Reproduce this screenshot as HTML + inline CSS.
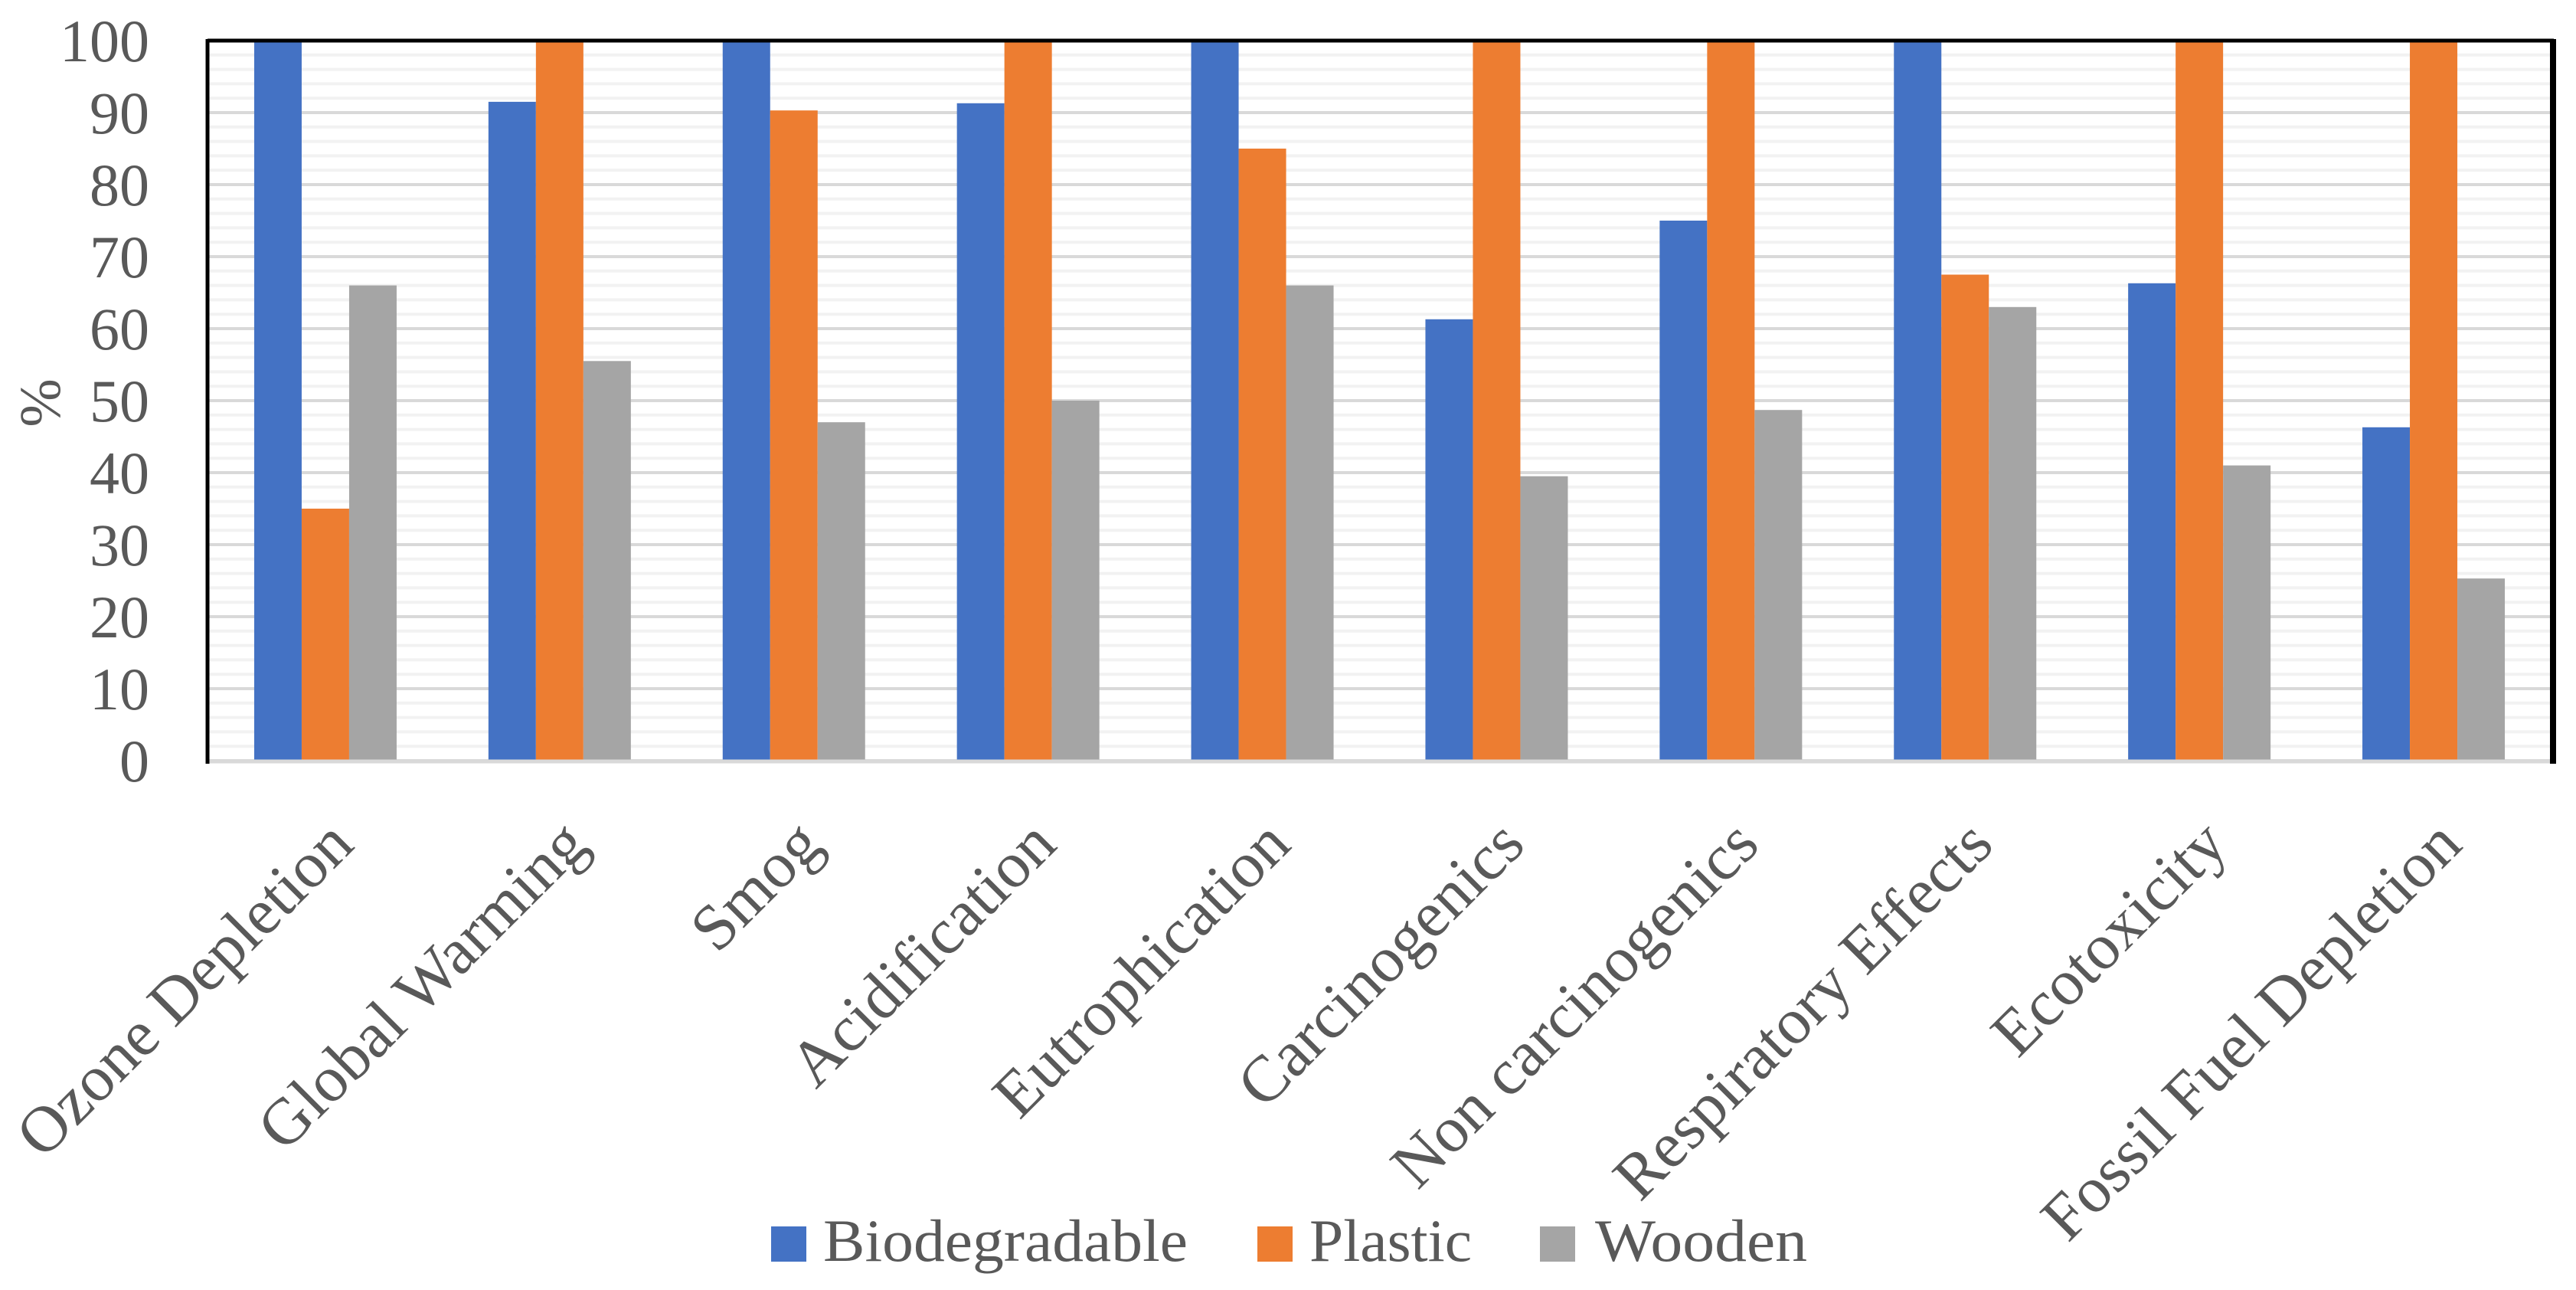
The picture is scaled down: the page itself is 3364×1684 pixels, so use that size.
<!DOCTYPE html>
<html><head><meta charset="utf-8"><style>
html,body{margin:0;padding:0;background:#fff;}
svg{display:block;font-family:"Liberation Serif",serif;}
</style></head><body>
<svg id="chart" width="3364" height="1684" viewBox="0 0 3364 1684" xmlns="http://www.w3.org/2000/svg">
<g id="grid"></g>
<g id="bars"></g>
<g id="axes"></g>
<g id="ylabels"></g>
<g id="xlabels"></g>
<text transform="translate(78,526) rotate(-90)" text-anchor="middle" font-size="76" fill="#595959">%</text>
<g>
  <g>
    <rect x="1007" y="1601" width="46" height="46" fill="#4472c4"/>
    <text x="1075" y="1646" font-size="78" fill="#595959" textLength="476" lengthAdjust="spacingAndGlyphs">Biodegradable</text>
  </g>
  <g>
    <rect x="1642" y="1601" width="46" height="46" fill="#ed7d31"/>
    <text x="1710" y="1646" font-size="78" fill="#595959" textLength="212" lengthAdjust="spacingAndGlyphs">Plastic</text>
  </g>
  <g>
    <rect x="2011" y="1601" width="46" height="46" fill="#a5a5a5"/>
    <text x="2083" y="1646" font-size="78" fill="#595959" textLength="277" lengthAdjust="spacingAndGlyphs">Wooden</text>
  </g>
</g>
</svg>
<script>
const categories = ["Ozone Depletion","Global Warming","Smog","Acidification","Eutrophication","Carcinogenics","Non carcinogenics","Respiratory Effects","Ecotoxicity","Fossil Fuel Depletion"];
const biodegradable = [100,91.5,100,91.3,100,61.3,75,100,66.3,46.3];
const plastic = [35,100,90.3,100,85,100,100,67.5,100,100];
const wooden = [66,55.5,47,50,66,39.5,48.7,63,41,25.3];
const yTicks = [0,10,20,30,40,50,60,70,80,90,100];

const NS = "http://www.w3.org/2000/svg";
const X0 = 272, X1 = 3331, Y0 = 993, Y1 = 53;
const yMax = 100;
const band = (X1 - X0) / categories.length;
const barW = 62;
function yScale(v){ return Y0 - (v / yMax) * (Y0 - Y1); }
function xCenter(i){ return X0 + band * (i + 0.5); }
function mk(tag, attrs, parent){
  const e = document.createElementNS(NS, tag);
  for (const k in attrs) e.setAttribute(k, attrs[k]);
  parent.appendChild(e);
  return e;
}
const grid = document.getElementById('grid');
for (let v = 0; v <= yMax; v += 2) {
  const major = v % 10 === 0;
  const l = mk('line', {x1:X0, x2:X1, y1:yScale(v), y2:yScale(v), stroke: major ? '#d9d9d9' : '#f2f2f2', 'stroke-width': 4}, grid);
  
  
}
const series = [[biodegradable,'#4472c4','biodegradable'],[plastic,'#ed7d31','plastic'],[wooden,'#a5a5a5','wooden']];
const bars = document.getElementById('bars');
categories.forEach((c, i) => {
  series.forEach((s, j) => {
    const v = s[0][i];
    const x = xCenter(i) + (j - 1.5) * barW;
    const r = mk('rect', {x:x, y:yScale(v), width:barW, height:Y0 - yScale(v), fill:s[1]}, bars);
    
    
  });
});
const axes = document.getElementById('axes');
let a;
a = mk('line', {x1:X0, x2:X1, y1:Y0+1, y2:Y0+1, stroke:'#d9d9d9', 'stroke-width':5}, axes);


a = mk('line', {x1:X0-1, x2:X1+4, y1:Y1, y2:Y1, stroke:'#000', 'stroke-width':5}, axes);


a = mk('line', {x1:X0-1, x2:X0-1, y1:Y1-2, y2:Y0+4, stroke:'#000', 'stroke-width':5}, axes);


a = mk('line', {x1:X1+3, x2:X1+3, y1:Y1-2, y2:Y0+4, stroke:'#000', 'stroke-width':8}, axes);


const yl = document.getElementById('ylabels');
yTicks.forEach(t => {
  const e = mk('text', {x:195, y:yScale(t) + 27, 'text-anchor':'end', 'font-size':78, fill:'#595959'}, yl);
  e.textContent = t;
  
  
});
const xl = document.getElementById('xlabels');
categories.forEach((c, i) => {
  const ax = xCenter(i) + 40, ay = 1106;
  const e = mk('text', {x:0, y:0, 'text-anchor':'end', 'font-size':85, fill:'#595959', transform:'translate(' + ax + ',' + ay + ') rotate(-45)'}, xl);
  e.textContent = c;
  
  
});
</script>
</body></html>
